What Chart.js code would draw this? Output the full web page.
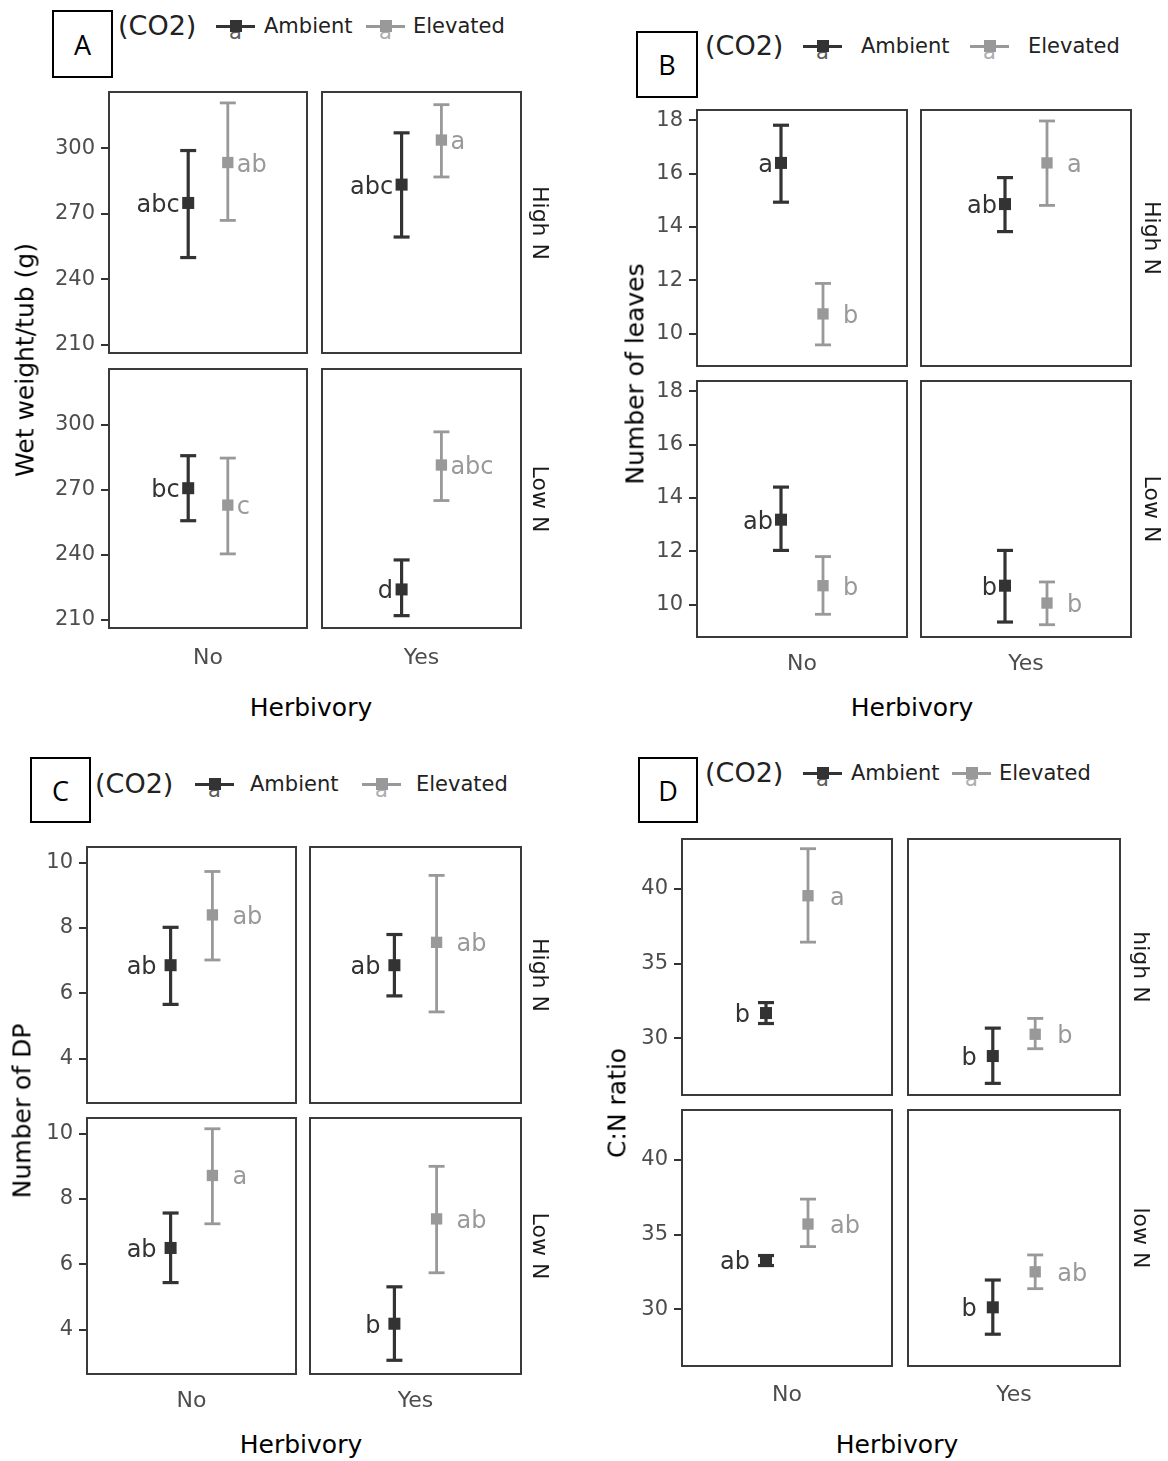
<!DOCTYPE html>
<html><head><meta charset="utf-8">
<script src="https://cdn.jsdelivr.net/npm/chart.js@4.4.1/dist/chart.umd.min.js"></script>
<style>
body{margin:0;background:#fff;}
#page{position:relative;width:1168px;height:1461px;overflow:hidden;font-family:"DejaVu Sans",sans-serif;background:#fff;}
.abs{position:absolute;white-space:nowrap;line-height:1.164;}
canvas{position:absolute;}
.box{position:absolute;border:2px solid #000;box-sizing:border-box;font-family:"Open Sans","Noto Sans",sans-serif;font-size:27px;display:flex;align-items:center;justify-content:center;color:#000;}
</style></head><body><div id="page"></div>
<script>
// ---------- categories ----------
const herbivory = ['No', 'Yes'];
const co2 = ['Ambient', 'Elevated'];
const stripsUpper = ['High N', 'Low N'];
const stripsLower = ['high N', 'low N'];
// facet order for every series: [High N / No, High N / Yes, Low N / No, Low N / Yes]

// ---------- Panel A: Wet weight/tub (g) ----------
const wetTicks = [210, 240, 270, 300];
const wetAmbMean = [275.0, 283.4, 270.8, 224.1];
const wetAmbLo   = [250.0, 259.4, 255.8, 212.0];
const wetAmbHi   = [299.0, 307.1, 285.8, 237.7];
const wetElevMean = [293.5, 303.8, 263.0, 281.5];
const wetElevLo   = [267.0, 286.9, 240.5, 265.1];
const wetElevHi   = [320.8, 320.0, 284.7, 296.8];
const wetAmbLetters = ['abc', 'abc', 'bc', 'd'];
const wetElevLetters = ['ab', 'a', 'c', 'abc'];

// ---------- Panel B: Number of leaves ----------
const leafTicks = [10, 12, 14, 16, 18];
const leafAmbMean = [16.40, 14.86, 13.19, 10.72];
const leafAmbLo   = [14.93, 13.83, 12.04, 9.36];
const leafAmbHi   = [17.81, 15.85, 14.41, 12.04];
const leafElevMean = [10.75, 16.40, 10.72, 10.07];
const leafElevLo   = [9.59, 14.81, 9.65, 9.26];
const leafElevHi   = [11.89, 17.97, 11.81, 10.86];
const leafAmbLetters = ['a', 'ab', 'ab', 'b'];
const leafElevLetters = ['b', 'a', 'b', 'b'];

// ---------- Panel C: Number of DP ----------
const dpTicks = [4, 6, 8, 10];
const dpAmbMean = [6.86, 6.86, 6.50, 4.18];
const dpAmbLo   = [5.66, 5.92, 5.44, 3.06];
const dpAmbHi   = [8.02, 7.80, 7.57, 5.31];
const dpElevMean = [8.40, 7.56, 8.72, 7.39];
const dpElevLo   = [7.02, 5.43, 7.24, 5.74];
const dpElevHi   = [9.73, 9.61, 10.15, 9.00];
const dpAmbLetters = ['ab', 'ab', 'ab', 'b'];
const dpElevLetters = ['ab', 'ab', 'a', 'ab'];

// ---------- Panel D: C:N ratio ----------
const cnTicks = [30, 35, 40];
const cnAmbMean = [31.69, 28.81, 33.27, 30.13];
const cnAmbLo   = [30.99, 26.98, 32.93, 28.33];
const cnAmbHi   = [32.39, 30.68, 33.60, 31.96];
const cnElevMean = [39.55, 30.27, 35.71, 32.51];
const cnElevLo   = [36.44, 29.30, 34.20, 31.38];
const cnElevHi   = [42.70, 31.33, 37.38, 33.64];
const cnAmbLetters = ['b', 'b', 'ab', 'b'];
const cnElevLetters = ['a', 'b', 'ab', 'ab'];

// ---------- assemble ----------
const panels = [
  {key:'A', title:'Wet weight/tub (g)', strips:stripsUpper, ticks:wetTicks,
   ambMean:wetAmbMean, ambLo:wetAmbLo, ambHi:wetAmbHi, elevMean:wetElevMean, elevLo:wetElevLo, elevHi:wetElevHi,
   ambLet:wetAmbLetters, elevLet:wetElevLetters},
  {key:'B', title:'Number of leaves', strips:stripsUpper, ticks:leafTicks,
   ambMean:leafAmbMean, ambLo:leafAmbLo, ambHi:leafAmbHi, elevMean:leafElevMean, elevLo:leafElevLo, elevHi:leafElevHi,
   ambLet:leafAmbLetters, elevLet:leafElevLetters},
  {key:'C', title:'Number of DP', strips:stripsUpper, ticks:dpTicks,
   ambMean:dpAmbMean, ambLo:dpAmbLo, ambHi:dpAmbHi, elevMean:dpElevMean, elevLo:dpElevLo, elevHi:dpElevHi,
   ambLet:dpAmbLetters, elevLet:dpElevLetters},
  {key:'D', title:'C:N ratio', strips:stripsLower, ticks:cnTicks,
   ambMean:cnAmbMean, ambLo:cnAmbLo, ambHi:cnAmbHi, elevMean:cnElevMean, elevLo:cnElevLo, elevHi:cnElevHi,
   ambLet:cnAmbLetters, elevLet:cnElevLetters}
];

// ---------- layout (page geometry, not data) ----------
const layout = {
  A:{box:[52,10,61,68], legY:26, legX:[118,216,264,366,413], cols:[[109,307],[322,521]], rows:[[92,353],[369,628]],
     yRange:[206.3,325.8], yTitleX:25, stripX:540, xLabY:657, herbY:708, herbX:311, gapA:-8.5, gapE:9},
  B:{box:[636,31,62,67], legY:46, legX:[705,803,861,970,1028], cols:[[697,907],[921,1131]], rows:[[110,366],[381,637]],
     yRange:[8.8,18.38], yTitleX:635, stripX:1152, xLabY:663, herbY:708, herbX:912, gapA:-8, gapE:20},
  C:{box:[30,757,61,66], legY:784, legX:[95,195,250,362,416], cols:[[87,296],[310,521]], rows:[[847,1103],[1118,1374]],
     yRange:[2.64,10.48], yTitleX:22, stripX:540, xLabY:1400, herbY:1445, herbX:301, gapA:-14, gapE:20},
  D:{box:[638,757,60,66], legY:773, legX:[705,803,851,952,999], cols:[[682,892],[908,1120]], rows:[[839,1095],[1110,1366]],
     yRange:[26.2,43.35], yTitleX:617, stripX:1141, xLabY:1394, herbY:1445, herbX:897, gapA:-16, gapE:22}
};

const AMB = '#333333', ELEV = '#999999';
const DODGE = 0.12;
const FONT = 'DejaVu Sans';
const page = document.getElementById('page');

function put(text, x, y, o) {
  const d = document.createElement('div');
  d.className = 'abs';
  d.textContent = text;
  d.style.left = x + 'px'; d.style.top = y + 'px';
  d.style.fontSize = (o.size || 22) + 'px';
  d.style.color = o.color || '#000';
  if (o.family) d.style.fontFamily = o.family;
  let tf = o.anchor === 'center' ? 'translate(-50%,-50%)' : 'translate(0,-50%)';
  if (o.rot) tf += ' rotate(' + o.rot + 'deg)';
  d.style.transform = tf;
  page.appendChild(d);
  return d;
}
function rect(x, y, w, h, color) {
  const d = document.createElement('div');
  d.style.cssText = 'position:absolute;left:' + x + 'px;top:' + y + 'px;width:' + w + 'px;height:' + h + 'px;background:' + color + ';';
  page.appendChild(d);
}
function legendKey(x, y, color) {
  const w = 39;
  put('a', x + w / 2, y + 6, {anchor:'center', size:21, color:color}).style.opacity = '0.8';
  rect(x, y - 1.5, w, 3, color);
  rect(x + w / 2 - 6, y - 6, 12, 12, color);
}

function makeDeco(p, L, i) {
  return {
    id: 'facetDeco',
    beforeDatasetsDraw(chart) {
      const {ctx, scales} = chart;
      ctx.save();
      ctx.font = '24px "' + FONT + '"';
      ctx.textBaseline = 'alphabetic';
      const items = [
        [-DODGE, p.ambMean[i], p.ambLet[i], AMB, 'right', L.gapA],
        [DODGE, p.elevMean[i], p.elevLet[i], ELEV, 'left', L.gapE]
      ];
      for (const [xv, yv, t, col, al, g] of items) {
        ctx.fillStyle = col;
        ctx.textAlign = al;
        ctx.fillText(t, scales.x.getPixelForValue(xv) + g, scales.y.getPixelForValue(yv) + 9);
      }
      ctx.restore();
    },
    afterDatasetsDraw(chart) {
      const {ctx, chartArea:a} = chart;
      ctx.save();
      ctx.strokeStyle = '#3a3a3a';
      ctx.lineWidth = 2;
      ctx.strokeRect(a.left, a.top, a.right - a.left, a.bottom - a.top);
      ctx.restore();
    }
  };
}

function buildFacet(p, L, r, c) {
  const i = r * 2 + c;
  const [fl, fr] = L.cols[c], [ft, fb] = L.rows[r];
  const fw = fr - fl, fh = fb - ft;
  const YW = c === 0 ? 70 : 0;
  const padL = 16, padR = 16, padT = 24;
  const XH = r === 1 ? 50 : 0, padB = r === 1 ? 0 : 24;
  const cw = padL + YW + fw + padR, ch = padT + fh + XH + padB;
  const cv = document.createElement('canvas');
  cv.width = cw; cv.height = ch;
  cv.style.width = cw + 'px'; cv.style.height = ch + 'px';
  cv.style.left = (fl - YW - padL) + 'px';
  cv.style.top = (ft - padT) + 'px';
  page.appendChild(cv);
  const xPad = (L.xLabY - fb) - 0.6 * 22 + 1.5;
  new Chart(cv, {
    type: 'scatter',
    data: {datasets: [
      {label: co2[0], data: [{x:-DODGE, y:p.ambMean[i]}], pointStyle:'rect', pointRadius:8.5, pointHoverRadius:8.5, backgroundColor:AMB, borderColor:AMB, borderWidth:0},
      {label: co2[1], data: [{x:DODGE, y:p.elevMean[i]}], pointStyle:'rect', pointRadius:8, pointHoverRadius:8, backgroundColor:ELEV, borderColor:ELEV, borderWidth:0},
      {label: co2[0] + ' SE', data: [{x:-DODGE, y:p.ambLo[i]}, {x:-DODGE, y:p.ambHi[i]}], showLine:true,
       borderColor:AMB, backgroundColor:AMB, borderWidth:3.2, pointStyle:'line', pointRadius:8, pointHoverRadius:8, pointBorderWidth:3.2, pointBorderColor:AMB},
      {label: co2[1] + ' SE', data: [{x:DODGE, y:p.elevLo[i]}, {x:DODGE, y:p.elevHi[i]}], showLine:true,
       borderColor:ELEV, backgroundColor:ELEV, borderWidth:2.8, pointStyle:'line', pointRadius:8, pointHoverRadius:8, pointBorderWidth:2.8, pointBorderColor:ELEV}
    ]},
    options: {
      responsive:false, animation:false, devicePixelRatio:1, events:[],
      layout:{padding:{left:padL, right:padR, top:padT, bottom:padB}},
      plugins:{legend:{display:false}, tooltip:{enabled:false}},
      scales:{
        x:{type:'linear', min:-0.6, max:0.6, display: r === 1,
           grid:{display:false, drawTicks:false}, border:{display:false},
           afterBuildTicks: s => { s.ticks = [{value:0}]; },
           afterFit: s => { s.height = XH; },
           ticks:{callback: () => herbivory[c], padding:xPad, color:'#4d4d4d', font:{family:FONT, size:22}, maxRotation:0, autoSkip:false}},
        y:{type:'linear', min:L.yRange[0], max:L.yRange[1], display: c === 0,
           afterBuildTicks: s => { s.ticks = p.ticks.map(v => ({value:v})); },
           afterFit: s => { s.width = YW; },
           grid:{drawOnChartArea:false, drawTicks:true, tickLength:8, color:'#333', lineWidth:2},
           border:{display:false},
           ticks:{padding:6, color:'#4d4d4d', font:{family:FONT, size:21}}}
      }
    },
    plugins:[makeDeco(p, L, i)]
  });
}

for (const p of panels) {
  const L = layout[p.key];
  // label box
  const b = document.createElement('div');
  b.className = 'box';
  b.style.left = L.box[0] + 'px'; b.style.top = L.box[1] + 'px';
  b.style.width = L.box[2] + 'px'; b.style.height = L.box[3] + 'px';
  b.textContent = p.key;
  page.appendChild(b);
  // legend
  put('(CO2)', L.legX[0], L.legY, {size:27, color:'#222'});
  legendKey(L.legX[1], L.legY, AMB);
  put(co2[0], L.legX[2], L.legY, {size:21, color:'#222'});
  legendKey(L.legX[3], L.legY, ELEV);
  put(co2[1], L.legX[4], L.legY, {size:21, color:'#222'});
  // facets
  for (let r = 0; r < 2; r++) for (let c = 0; c < 2; c++) buildFacet(p, L, r, c);
  // strips
  for (let r = 0; r < 2; r++) {
    put(p.strips[r], L.stripX, (L.rows[r][0] + L.rows[r][1]) / 2, {anchor:'center', rot:90, size:22, color:'#1a1a1a'});
  }
  // axis titles
  put(p.title, L.yTitleX, (L.rows[0][0] + L.rows[1][1]) / 2, {anchor:'center', rot:-90, size:25, color:'#000'});
  put('Herbivory', L.herbX, L.herbY, {anchor:'center', size:25, color:'#000'});
}
</script></body></html>
